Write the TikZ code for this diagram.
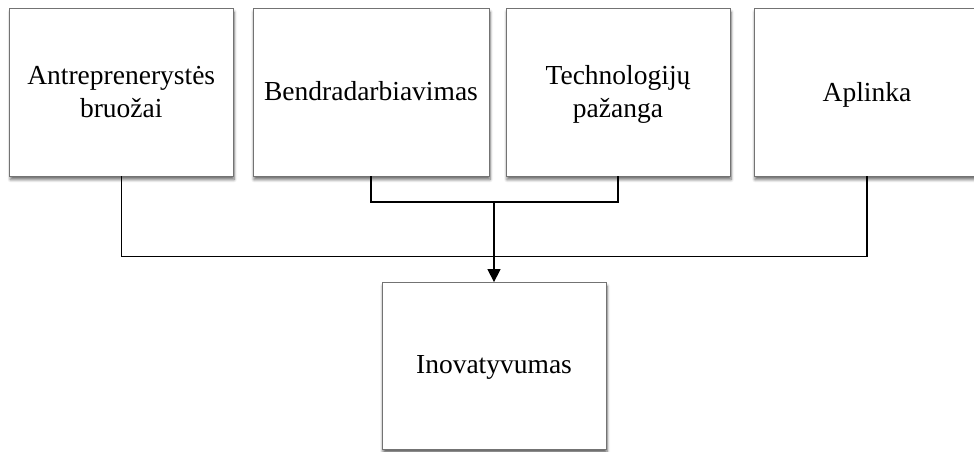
\documentclass[tikz,border=0pt]{standalone}
\usepackage{fontspec}
\setmainfont{Liberation Serif}
\usetikzlibrary{arrows.meta,shadows.blur}
\begin{document}
\begin{tikzpicture}[x=1pt,y=-1pt,
  box/.style={draw=black!55,line width=0.8pt,fill=white,inner sep=0pt,
    minimum height=167.5pt,
    blur shadow={shadow xshift=1pt,shadow yshift=-3.5pt,shadow blur steps=6,shadow blur radius=3pt,shadow opacity=60}},
  boxtext/.style={inner sep=0pt,align=center,font=\fontsize{27.5}{33}\selectfont},
  link/.style={draw=black,line width=1.3pt},
  arrowlink/.style={link,-{Triangle[width=13pt,length=13pt]}}]
\useasboundingbox (0,0) rectangle (974,451);
\begin{scope}
\clip (0,0) rectangle (974,451);
\node[box,minimum width=223.5pt] (b1) at (121.25,92.25) {};
\node[box,minimum width=236pt] (b2) at (371,92.25) {};
\node[box,minimum width=224pt] (b3) at (618,92.25) {};
\node[box,minimum width=226pt] (b4) at (867,92.25) {};
\node[box,minimum width=224pt,minimum height=167pt] (out) at (494,366) {};
\end{scope}
% labels, struts keep the baselines of all boxes level
\node[boxtext] (t1) at ([yshift=-2.5pt]b1.center) {\strut Antreprenerystės\\bruožai\strut};
\node[boxtext] (t2) at ([yshift=-2pt]b2.center) {\strut Bendradarbiavimas};
\node[boxtext] (t3) at ([yshift=-2.5pt]b3.center) {\strut Technologijų\\pažanga\strut};
\node[boxtext] (t4) at ([yshift=-2.5pt]b4.center) {\strut Aplinka};
\node[boxtext] (t5) at ([yshift=-1pt]out.center) {\strut Inovatyvumas};
% connectors
\coordinate (bus) at (494,256.5);
\coordinate (join) at (494,202);
\draw[link] (b1.south) |- (bus) -| (b4.south);
\draw[link] (b2.south) |- (join) -| (b3.south);
\draw[arrowlink] (join) -- (out.north);
\end{tikzpicture}
\end{document}
